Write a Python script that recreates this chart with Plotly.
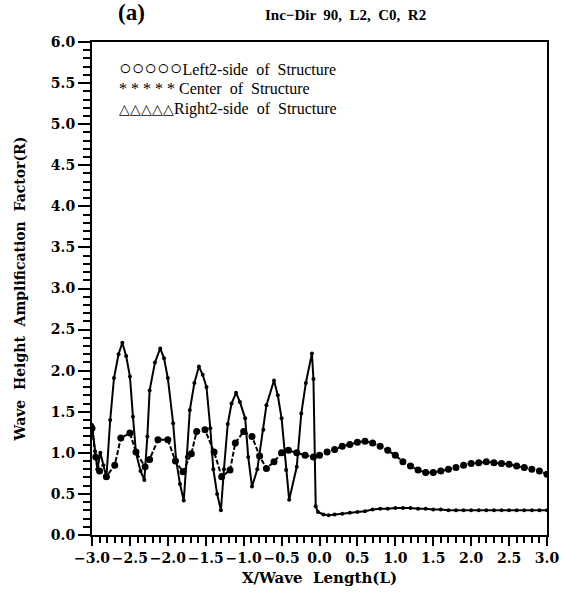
import plotly.graph_objects as go

# Left2-side of Structure (solid line, small dots)
left_x = [-3.00, -2.96, -2.93, -2.89, -2.85, -2.81, -2.76, -2.71, -2.65, -2.60, -2.55, -2.50,
          -2.46, -2.42, -2.36, -2.31, -2.27, -2.24, -2.17, -2.10, -2.05, -2.00, -1.93, -1.89,
          -1.84, -1.79, -1.75, -1.71, -1.65, -1.59, -1.54, -1.49, -1.44, -1.40, -1.35, -1.30,
          -1.26, -1.21, -1.16, -1.10, -1.05, -0.98, -0.94, -0.89, -0.82, -0.74, -0.70, -0.60,
          -0.55, -0.50, -0.44, -0.40, -0.30, -0.24, -0.18, -0.10, -0.08, -0.05, -0.02, 0.05,
          0.12, 0.2, 0.3, 0.4, 0.5, 0.6, 0.7, 0.8, 0.9, 1.0, 1.1, 1.2, 1.3, 1.4, 1.5, 1.6,
          1.7, 1.8, 1.9, 2.0, 2.1, 2.2, 2.3, 2.4, 2.5, 2.6, 2.7, 2.8, 2.9, 3.0]
left_y = [1.34, 1.02, 0.80, 1.00, 0.85, 0.70, 1.40, 1.91, 2.20, 2.34, 2.18, 1.93,
          1.44, 1.00, 0.78, 0.67, 1.20, 1.76, 2.10, 2.27, 2.15, 1.91, 1.36, 0.91,
          0.62, 0.42, 0.95, 1.52, 1.85, 2.05, 1.95, 1.80, 1.30, 0.80, 0.50, 0.30,
          0.80, 1.35, 1.60, 1.73, 1.62, 1.42, 0.95, 0.59, 0.80, 1.28, 1.58, 1.88,
          1.70, 1.42, 0.79, 0.43, 0.83, 1.48, 1.85, 2.21, 1.90, 0.35, 0.28, 0.25,
          0.24, 0.25, 0.26, 0.27, 0.28, 0.29, 0.31, 0.32, 0.32, 0.33, 0.33, 0.33, 0.32, 0.32, 0.31, 0.31,
          0.30, 0.30, 0.30, 0.30, 0.30, 0.30, 0.30, 0.30, 0.30, 0.30, 0.30, 0.30, 0.30, 0.30]

# Center of Structure (dashed line, larger dots)
center_x = [-3.00, -2.95, -2.90, -2.81, -2.70, -2.62, -2.50, -2.42, -2.30, -2.24, -2.13, -2.00,
            -1.90, -1.80, -1.69, -1.62, -1.51, -1.39, -1.29, -1.18, -1.11, -1.00, -0.89, -0.79,
            -0.70, -0.60, -0.50, -0.41, -0.30, -0.19, -0.08, 0.0, 0.1, 0.2, 0.3, 0.4, 0.5, 0.6,
            0.7, 0.8, 0.9, 1.0, 1.1, 1.2, 1.3, 1.4, 1.5, 1.6, 1.7, 1.8, 1.9, 2.0, 2.1, 2.2, 2.3,
            2.4, 2.5, 2.6, 2.7, 2.8, 2.9, 3.0]
center_y = [1.30, 0.95, 0.78, 0.71, 0.85, 1.18, 1.24, 1.01, 0.83, 0.92, 1.16, 1.16,
            0.90, 0.77, 0.99, 1.26, 1.28, 1.01, 0.71, 0.79, 1.12, 1.26, 1.20, 0.96,
            0.81, 0.89, 1.00, 1.03, 1.00, 0.97, 0.95, 0.97, 1.01, 1.04, 1.08, 1.10, 1.13, 1.14,
            1.12, 1.08, 1.03, 0.97, 0.89, 0.84, 0.79, 0.76, 0.76, 0.78, 0.80, 0.82, 0.85, 0.87,
            0.88, 0.89, 0.88, 0.87, 0.86, 0.84, 0.82, 0.80, 0.78, 0.74]

legend_symbols = ["○○○○○", "* * * * * ", "△△△△△"]
legend_symbol_sizes = [21, 16, 14]
legend_labels = ["Left2-side  of  Structure", "Center  of  Structure", "Right2-side  of  Structure"]
x_ticks = [-3.0, -2.5, -2.0, -1.5, -1.0, -0.5, 0.0, 0.5, 1.0, 1.5, 2.0, 2.5, 3.0]
y_ticks = [0.0, 0.5, 1.0, 1.5, 2.0, 2.5, 3.0, 3.5, 4.0, 4.5, 5.0, 5.5, 6.0]

fig = go.Figure()
fig.add_trace(go.Scatter(x=left_x, y=left_y, mode="lines+markers",
                         line=dict(color="black", width=2),
                         marker=dict(color="black", size=4), showlegend=False))
fig.add_trace(go.Scatter(x=center_x, y=center_y, mode="lines+markers",
                         line=dict(color="black", width=2, dash="5px,2px"),
                         marker=dict(color="black", size=7), showlegend=False))

tickfont = dict(family="DejaVu Serif", size=14, color="black", weight="bold")
fig.update_xaxes(range=[-3, 3], tickvals=x_ticks, ticktext=[f"{v:.1f}".replace("-", "−") for v in x_ticks],
                 tickangle=0, automargin=False,
                 ticks="outside", ticklen=9, tickwidth=2, tickcolor="black",
                 minor=dict(dtick=0.1, ticks="outside", ticklen=6, tickwidth=2, tickcolor="black"),
                 showline=True, linecolor="black", linewidth=2, mirror=True,
                 showgrid=False, zeroline=False, tickfont=tickfont,
                 title=dict(text="X/Wave  Length(L)", standoff=8,
                            font=dict(family="DejaVu Serif", size=15, color="black", weight="bold")))
fig.update_yaxes(range=[0, 6], tickvals=y_ticks, ticktext=[f"{v:.1f}" for v in y_ticks],
                 automargin=False,
                 ticks="outside", ticklen=12, tickwidth=2, tickcolor="black",
                 minor=dict(dtick=0.1, ticks="outside", ticklen=7, tickwidth=2, tickcolor="black"),
                 showline=True, linecolor="black", linewidth=2, mirror=True,
                 showgrid=False, zeroline=False, tickfont=tickfont,
                 title=dict(text="Wave  Height  Amplification  Factor(R)", standoff=22,
                            font=dict(family="DejaVu Serif", size=14, color="black", weight="bold")))

for i, (sym, sz, lab) in enumerate(zip(legend_symbols, legend_symbol_sizes, legend_labels)):
    fig.add_annotation(text=f"<span style='font-size:{sz}px'>{sym}</span>{lab}",
                       xref="paper", yref="paper", x=0.055, y=0.947 - i * 0.041,
                       xanchor="left", yanchor="middle", showarrow=False,
                       font=dict(family="Liberation Serif", size=16, color="black"))
fig.add_annotation(text="<b>(a)</b>", xref="paper", yref="paper", x=0.053, y=1.06,
                   xanchor="left", yanchor="middle", showarrow=False,
                   font=dict(family="Liberation Serif", size=23, color="black"))
fig.add_annotation(text="<b>Inc−Dir  90,  L2,  C0,  R2</b>", xref="paper", yref="paper", x=0.557, y=1.055,
                   xanchor="center", yanchor="middle", showarrow=False,
                   font=dict(family="Liberation Serif", size=15, color="black"))

fig.update_layout(width=563, height=594, margin=dict(l=92, r=16, t=42, b=59),
                  plot_bgcolor="white", paper_bgcolor="white")
fig.write_html("out.html")
